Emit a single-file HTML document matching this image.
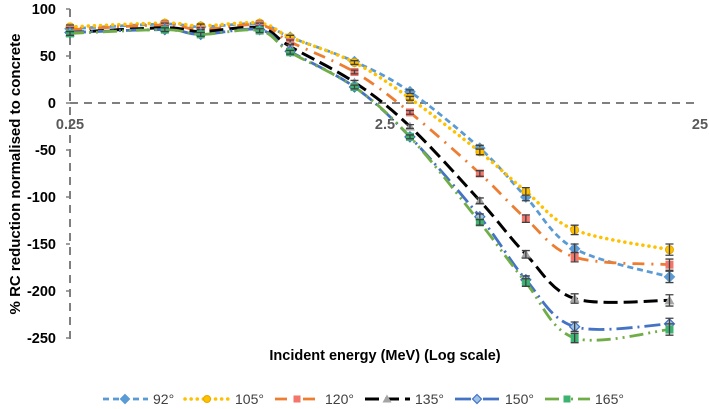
<!DOCTYPE html>
<html><head><meta charset="utf-8"><style>
body{margin:0;background:#fff;}
svg{font-family:"Liberation Sans",sans-serif;display:block;}
</style></head><body>
<svg id="chart" width="709" height="409" viewBox="0 0 709 409">
<g id="axes"></g><g id="series"></g><g id="legend"></g>
<text x="385" y="360" text-anchor="middle" font-size="14.5" font-weight="bold" fill="#000">Incident energy (MeV) (Log scale)</text>
<text transform="translate(20,174) rotate(-90)" text-anchor="middle" font-size="15" font-weight="bold" fill="#000">% RC reduction normalised to concrete</text>
</svg>
<script>
const energies=[0.25,0.5,0.65,1,1.25,2,3,5,7,10,20];
const seriesNames=["92°","105°","120°","135°","150°","165°"];
const s92=[79,84,81,84,70,44,12,-48,-100,-155,-185];
const s105=[81,85,82,85,70,43,5,-52,-94,-135,-156];
const s120=[78,83,78,83,65,33,-10,-75,-123,-164,-172];
const s135=[75,80,76,80,60,22,-25,-104,-161,-208,-210];
const s150=[75,78,73,78,55,17,-36,-121,-188,-238,-235];
const s165=[74,78,73,77,54,17,-36,-127,-191,-250,-241];
const yTicks=[100,50,0,-50,-100,-150,-200,-250];
const xTicks=[0.25,2.5,25];
const errs=[2,2,2,2,2,2,2,3,4,5,6];

const NS="http://www.w3.org/2000/svg";
const X=v=>70+315*Math.log10(v/0.25);
const Y=v=>103-0.94*v;
function mk(tag,attrs,parent){const e=document.createElementNS(NS,tag);for(const k in attrs)e.setAttribute(k,attrs[k]);parent.appendChild(e);return e;}
const axes=document.getElementById('axes');
let l=mk('line',{x1:70,y1:9,x2:70,y2:342,stroke:'#7f7f7f','stroke-width':2,'stroke-dasharray':'8,6'},axes);


l=mk('line',{x1:70,y1:Y(0),x2:700,y2:Y(0),stroke:'#7f7f7f','stroke-width':2,'stroke-dasharray':'8,6'},axes);


yTicks.forEach(t=>{const e=mk('text',{x:56,y:Y(t)+5,'text-anchor':'end','font-size':14.5,'font-weight':'bold',fill:'#000'},axes);e.textContent=t;


mk('line',{x1:66,y1:Y(t),x2:70,y2:Y(t),stroke:'#7f7f7f','stroke-width':1.5},axes);});
xTicks.forEach(t=>{const e=mk('text',{x:X(t),y:Y(0)+26,'text-anchor':'middle','font-size':14.5,'font-weight':'bold',fill:'#595959'},axes);e.textContent=t;

});

const styles=[
{c:'#5B9BD5',d:'6,4',w:2.8,m:'diamond',mc:'#5B9BD5'},
{c:'#FFC000',d:'0.1,6',w:3.5,m:'circle',mc:'#FFC000',cap:'round'},
{c:'#ED7D31',d:'12,7,2,7',w:2.8,m:'square',mc:'#F4756A'},
{c:'#000000',d:'14,6',w:3,m:'triangle',mc:'#A5A5A5'},
{c:'#4472C4',d:'16,5,2,5',w:2.8,m:'diamondo',mc:'#4472C4'},
{c:'#70AD47',d:'14,5,2,5,2,5',w:2.8,m:'square',mc:'#3CB371'}];
const all=[s92,s105,s120,s135,s150,s165];
function smooth(pts){let d=`M${pts[0][0]},${pts[0][1]}`;for(let i=0;i<pts.length-1;i++){const p0=pts[Math.max(0,i-1)],p1=pts[i],p2=pts[i+1],p3=pts[Math.min(pts.length-1,i+2)];const t=1/6;d+=` C${p1[0]+(p2[0]-p0[0])*t},${p1[1]+(p2[1]-p0[1])*t} ${p2[0]-(p3[0]-p1[0])*t},${p2[1]-(p3[1]-p1[1])*t} ${p2[0]},${p2[1]}`;}return d;}
function marker(g,type,x,y,c,s){s=s||4;
 if(type==='diamond'||type==='diamondo')return mk('polygon',{points:`${x},${y-s-1} ${x+s+1},${y} ${x},${y+s+1} ${x-s-1},${y}`,fill:type==='diamondo'?'#9dc3e6':c,stroke:c,'stroke-width':1.2},g);
 if(type==='circle')return mk('circle',{cx:x,cy:y,r:s,fill:c,stroke:'#e6a800','stroke-width':1},g);
 if(type==='square')return mk('rect',{x:x-s,y:y-s,width:2*s,height:2*s,fill:c},g);
 return mk('polygon',{points:`${x},${y-s-1} ${x+s+1},${y+s} ${x-s-1},${y+s}`,fill:c},g);}
const sg=document.getElementById('series');
all.forEach((vals,si)=>{const st=styles[si];const g=mk('g',{},sg);


const pts=energies.map((e,i)=>[X(e),Y(vals[i])]);
mk('path',{d:smooth(pts),fill:'none',stroke:st.c,'stroke-width':st.w,'stroke-dasharray':st.d,'stroke-linecap':st.cap||'butt'},g);
pts.forEach((p,i)=>{const m=marker(g,st.m,p[0],p[1],st.mc);


const e=errs[i]*0.94;mk('path',{d:`M${p[0]},${p[1]-e}V${p[1]+e}M${p[0]-4},${p[1]-e}h8M${p[0]-4},${p[1]+e}h8`,stroke:'#404040','stroke-width':1.3,fill:'none'},g);});});

const lg=document.getElementById('legend');
const lx=[103,185,275,365,455,545];
seriesNames.forEach((n,i)=>{const st=styles[i];const g=mk('g',{},lg);


const y=399;mk('line',{x1:lx[i],y1:y,x2:lx[i]+45,y2:y,stroke:st.c,'stroke-width':st.w,'stroke-dasharray':st.d,'stroke-linecap':st.cap||'butt'},g);
marker(g,st.m,lx[i]+22,y,st.mc,3.5);
const t=mk('text',{x:lx[i]+50,y:y+5,'font-size':14,fill:'#404040'},g);t.textContent=n;});
</script>
</body></html>
